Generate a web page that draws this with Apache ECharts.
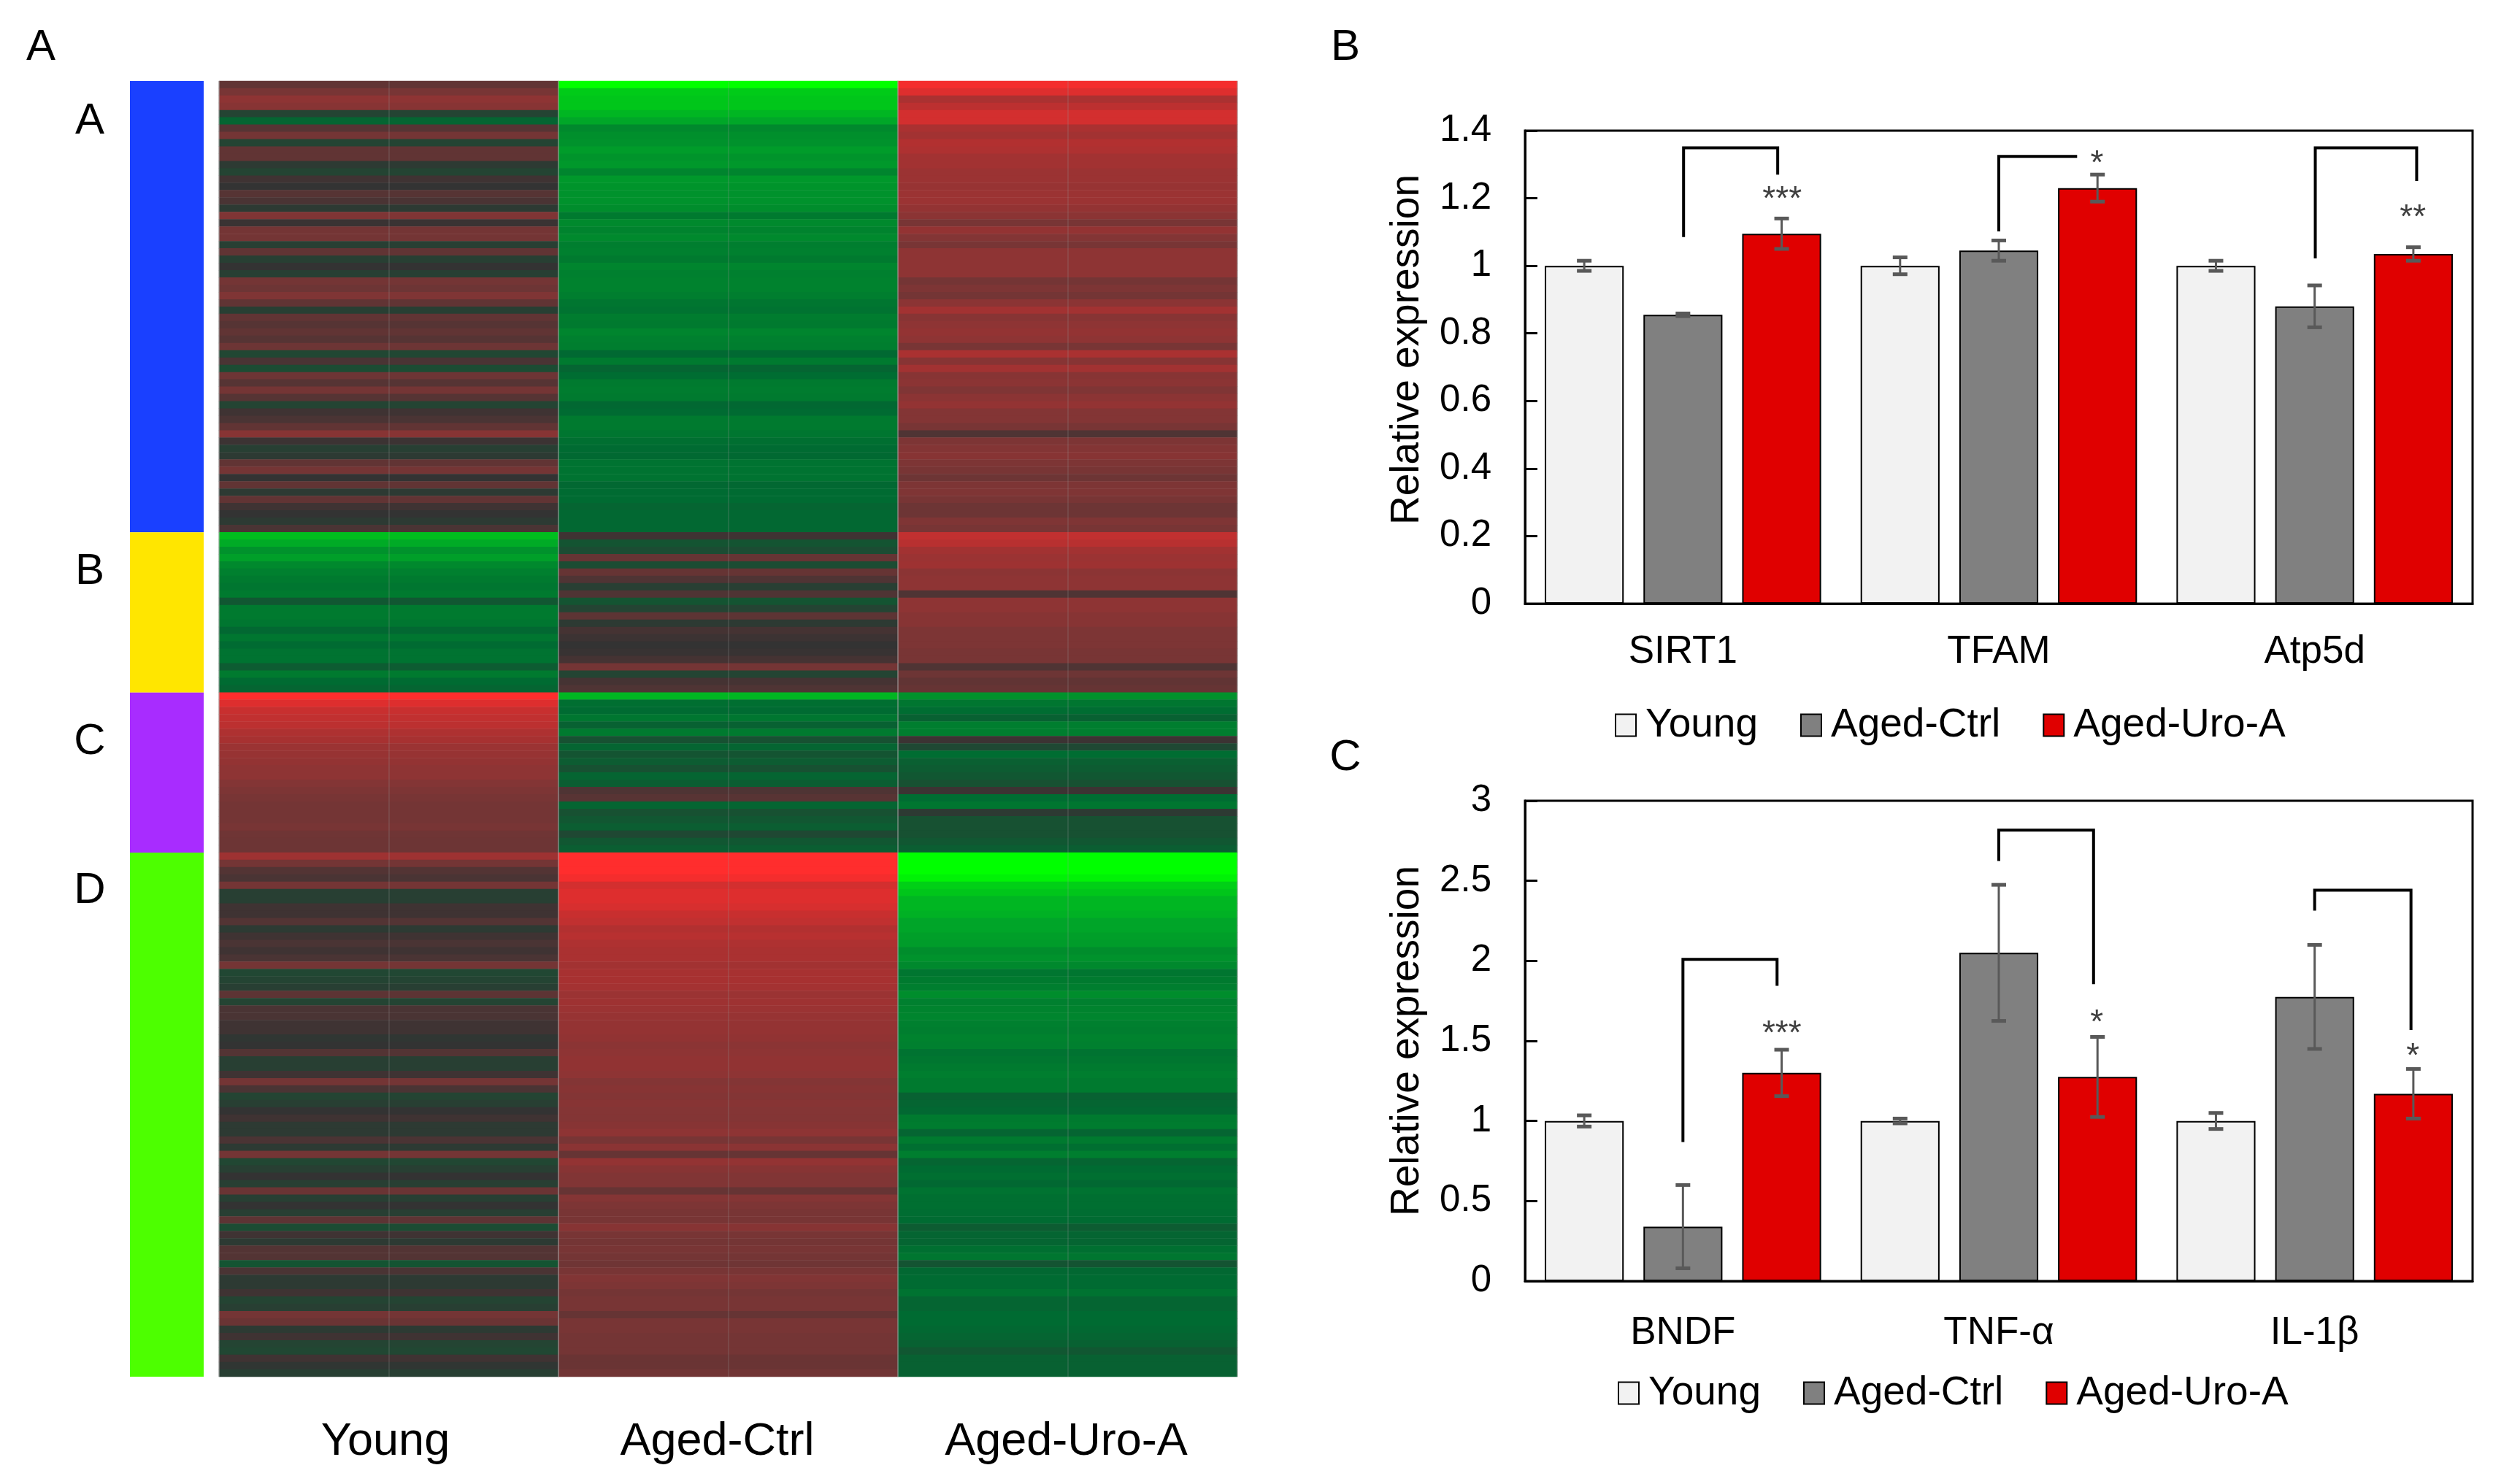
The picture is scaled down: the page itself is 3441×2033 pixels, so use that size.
<!DOCTYPE html>
<html>
<head>
<meta charset="utf-8">
<title>Uro-A expression</title>
<style>html,body{margin:0;padding:0;background:#fff}#main{width:3441px;height:2033px}</style>
<script src="https://cdn.jsdelivr.net/npm/echarts@6/dist/echarts.min.js"></script>
</head>
<body>
<div id="main"></div>
<script>
// === heatmap: one value per stripe (-1 green .. 0 dark .. +1 red) ===
const groups=['Young','Aged-Ctrl','Aged-Uro-A'];
const clusterColors=['#1a40ff','#ffe600','#a82cff','#4dff00'];
const youngA=[.2,.3,.42,.38,-.1,-.3,.15,.28,-.1,.2,.2,-.04,-.1,.05,0,.15,.1,-.04,.33,.03,.28,.28,-.07,.2,-.07,0,-.07,.28,.25,.33,.2,
  -.07,.2,.15,.2,.15,.25,-.12,.1,-.15,.25,.15,.28,.15,-.1,.05,.1,.2,.38,.04,-.07,-.04,.2,.28,0,.2,-.04,.2,.05,0,-.04,.1];
const ctrlA=[-1,-.8,-.78,-.78,-.72,-.66,-.5,-.53,-.55,-.6,-.56,-.58,-.48,-.58,-.56,-.55,-.55,-.52,-.42,-.5,-.47,-.5,-.44,-.45,-.42,-.48,-.45,-.46,-.46,-.44,-.4,
  -.38,-.43,-.42,-.48,-.45,-.44,-.33,-.42,-.3,-.35,-.42,-.43,-.42,-.32,-.34,-.42,-.42,-.4,-.36,-.34,-.33,-.38,-.38,-.38,-.32,-.34,-.34,-.3,-.32,-.32,-.32];
const uroA=[.95,.85,.6,.7,.8,.8,.6,.55,.65,.62,.55,.55,.5,.5,.48,.5,.5,.45,.4,.3,.45,.35,.3,.42,.42,.42,.42,.28,.32,.28,.4,
  .55,.38,.42,.45,.42,.3,.6,.38,.55,.38,.4,.33,.4,.45,.35,.35,.3,.12,.32,.35,.38,.32,.3,.25,.32,.33,.3,.25,.25,.33,.3];
const youngB=[-.75,-.68,-.55,-.62,-.5,-.45,-.42,-.4,-.42,-.22,-.42,-.42,-.4,-.32,-.4,-.34,-.38,-.38,-.25,-.42,-.34,-.3];
const ctrlB=[.05,-.2,-.15,.22,-.15,.22,.12,-.07,.12,-.2,-.1,.18,-.04,.08,.04,0,.02,.08,.28,-.1,.08,.12];
const uroB=[.72,.68,.55,.5,.52,.4,.42,.42,.12,.42,.42,.38,.38,.32,.32,.32,.3,.3,.12,.25,.2,.22];
const youngC=[1,.85,.75,.72,.7,.62,.58,.5,.48,.45,.42,.42,.35,.32,.3,.28,.28,.28,.3,.26,.25,.25];
const ctrlC=[-.72,-.36,-.34,-.4,-.28,-.42,-.18,-.3,-.2,-.25,-.18,-.3,-.26,.12,.16,-.3,-.18,-.22,-.26,-.13,-.22,-.26];
const uroC=[-.55,-.4,-.35,-.28,-.44,-.44,.04,-.13,-.35,-.27,-.25,-.22,-.18,.04,-.35,-.4,-.04,-.18,-.18,-.18,-.22,-.26];
const youngD=[.52,.28,.14,.1,.28,-.07,-.07,.05,.05,.14,-.04,.05,.1,.05,.1,.28,-.12,-.1,-.07,.18,-.1,.1,.1,.05,.05,-.02,0,.14,-.07,-.07,.05,.28,.1,-.1,-.07,0,
  .05,-.04,-.04,.1,-.04,.28,-.12,-.07,0,-.07,.24,-.07,0,-.07,.18,-.15,.05,-.04,.14,.14,-.2,.1,-.04,-.04,.05,-.1,-.07,.28,.24,-.04,.05,-.1,-.12,.05,-.02,-.07];
const ctrlD=[1,1,1,.95,.8,.85,.85,.82,.75,.72,.65,.68,.62,.6,.6,.55,.58,.58,.56,.5,.52,.5,.48,.46,.46,.44,.4,.42,.44,.44,.42,.35,.38,.35,.38,.36,
  .35,.38,.42,.3,.4,.22,.45,.38,.34,.34,.22,.36,.32,.3,.3,.38,.3,.28,.3,.28,.26,.3,.34,.32,.28,.3,.3,.22,.3,.3,.28,.28,.28,.24,.24,.27];
const uroD=[-1,-1,-1,-.95,-.82,-.78,-.72,-.72,-.7,-.65,-.65,-.62,-.6,-.52,-.55,-.5,-.4,-.42,-.44,-.52,-.45,-.47,-.48,-.45,-.44,-.46,-.45,-.38,-.4,-.42,-.44,-.42,-.42,-.28,-.3,-.32,
  -.42,-.43,-.3,-.42,-.36,-.44,-.3,-.34,-.36,-.32,-.38,-.36,-.36,-.35,-.34,-.25,-.3,-.3,-.36,-.4,-.2,-.32,-.34,-.34,-.38,-.3,-.3,-.34,-.34,-.32,-.3,-.28,-.22,-.28,-.28,-.28];

// === bar panels ===
const genesB=['SIRT1','TFAM','Atp5d'];
const youngValB=[1,1,1],ctrlValB=[.855,1.045,.88],uroValB=[1.095,1.23,1.035];
const youngErrB=[.015,.025,.015],ctrlErrB=[.004,.03,.062],uroErrB=[.045,.04,.02];
const genesC=['BNDF','TNF-α','IL-1β'];
const youngValC=[1,1,1],ctrlValC=[.34,2.05,1.775],uroValC=[1.3,1.275,1.17];
const youngErrC=[.035,.015,.05],ctrlErrC=[.26,.425,.325],uroErrC=[.145,.25,.155];
// bracket: x1,y1 up to top, across to x2,y2 (x in category widths from the left of the plot)
const bracketsB=[[.502,1.085,1.349,.80,1.27],[1.5,1.102,1.324,1.748,1.324],[2.502,1.022,1.349,2.823,1.251]];
const bracketsC=[[.5,.868,2.01,.798,1.844],[1.5,2.624,2.817,1.8,1.855],[2.5,2.314,2.441,2.805,1.568]];
const starsB=[[.814,1.195,'***'],[1.811,1.3,'*'],[2.811,1.14,'**']];
const starsC=[[.813,1.54,'***'],[1.81,1.61,'*'],[2.811,1.4,'*']];

const FONT='"Liberation Sans",Arial,sans-serif';
const BAR_COLORS=['#f2f2f2','#808080','#e00000'];

function heatData(){
  var cols=[youngA.concat(youngB,youngC,youngD),ctrlA.concat(ctrlB,ctrlC,ctrlD),uroA.concat(uroB,uroC,uroD)];
  var out=[];
  cols.forEach(function(col,x){col.forEach(function(v,y){out.push([x,y,v])})});
  return out;
}
const rowCount=youngA.length+youngB.length+youngC.length+youngD.length;
const rowLabels=[];
for(var r=0;r<rowCount;r++)rowLabels.push(String(r));

function renderBracket(params,api){
  var a=api.coord([api.value(0),api.value(1)]),
      b=api.coord([api.value(0),api.value(2)]),
      c=api.coord([api.value(3),api.value(2)]),
      d=api.coord([api.value(3),api.value(4)]);
  return {type:'polyline',shape:{points:[a,b,c,d]},style:{stroke:'#000',lineWidth:4,fill:null}};
}
function renderErr(params,api){
  var hi=api.coord([api.value(0),api.value(1)+api.value(2)]),
      lo=api.coord([api.value(0),api.value(1)-api.value(2)]),
      st={stroke:'#595959',lineWidth:3},cap={stroke:'#595959',lineWidth:5};
  return {type:'group',children:[
    {type:'line',shape:{x1:hi[0],y1:hi[1],x2:lo[0],y2:lo[1]},style:st},
    {type:'line',shape:{x1:hi[0]-10,y1:hi[1],x2:hi[0]+10,y2:hi[1]},style:cap},
    {type:'line',shape:{x1:lo[0]-10,y1:lo[1],x2:lo[0]+10,y2:lo[1]},style:cap}
  ]};
}
function renderStar(params,api){
  var p=api.coord([api.value(0),api.value(1)]);
  return {type:'text',style:{x:p[0],y:p[1],text:api.value(2),fill:'#404040',font:'46px '+FONT,textAlign:'center',textVerticalAlign:'middle'}};
}

// one bar panel = category axis + hidden 0-3 value axis for error bars and brackets
function addPanel(opt,gridCfg,cats,max,step,vals,errs,brackets,stars,labelMargin,titleShift){
  var g=opt.grid.length;
  opt.grid.push(Object.assign({show:true,borderColor:'#000',borderWidth:3,backgroundColor:'transparent'},gridCfg));
  var xCat=opt.xAxis.length,xVal=xCat+1,yI=opt.yAxis.length;
  opt.xAxis.push({type:'category',gridIndex:g,data:cats,axisTick:{show:false},axisLine:{lineStyle:{color:'#000',width:3}},
    axisLabel:{color:'#000',fontFamily:FONT,fontSize:53,margin:labelMargin}});
  opt.xAxis.push({type:'value',gridIndex:g,min:0,max:3,show:false});
  opt.yAxis.push({type:'value',gridIndex:g,min:0,max:max,interval:step,name:'Relative expression',nameLocation:'middle',nameGap:134,
    nameTextStyle:{color:'#000',fontFamily:FONT,fontSize:55,padding:[0,0,0,titleShift]},splitLine:{show:false},
    axisLine:{show:true,lineStyle:{color:'#000',width:3}},axisTick:{show:true,inside:true,length:17,lineStyle:{color:'#000',width:3}},
    axisLabel:{color:'#000',fontFamily:FONT,fontSize:51,margin:46}});
  groups.forEach(function(name,i){
    opt.series.push({name:name,type:'bar',xAxisIndex:xCat,yAxisIndex:yI,data:vals[i],barWidth:'25%',barGap:'25%',
      itemStyle:{color:BAR_COLORS[i],borderColor:'#000',borderWidth:2},animation:false});
    var pts=vals[i].map(function(v,k){return [k+.5+(i-1)*.3125,v,errs[i][k]]});
    opt.series.push({type:'custom',xAxisIndex:xVal,yAxisIndex:yI,data:pts,renderItem:renderErr,silent:true,z:5,animation:false,clip:false});
  });
  opt.series.push({type:'custom',xAxisIndex:xVal,yAxisIndex:yI,data:brackets,renderItem:renderBracket,silent:true,z:6,animation:false});
  opt.series.push({type:'custom',xAxisIndex:xVal,yAxisIndex:yI,data:stars,renderItem:renderStar,silent:true,z:6,animation:false,
    encode:{x:0,y:1},dimensions:['x','y',{name:'t',type:'ordinal'}]});
}
function legendCfg(left,top){
  return {left:left,top:top,data:groups,icon:'rect',itemWidth:28,itemHeight:30,itemGap:58,
    textStyle:{color:'#000',fontFamily:FONT,fontSize:55,padding:[0,0,0,8]}};
}
function txt(x,y,s,size){
  return {type:'text',x:x,y:y,style:{text:s,fill:'#000',font:size+'px '+FONT,textAlign:'center',textVerticalAlign:'middle'}};
}

const opt={
  animation:false,backgroundColor:'#fff',
  grid:[{left:300,top:111,width:1395,height:1775}],
  xAxis:[{type:'category',gridIndex:0,z:6,axisTick:{show:false},axisLine:{show:false},
    data:[{value:'Young',textStyle:{padding:[0,9,0,0]}},{value:'Aged-Ctrl',textStyle:{padding:[0,30,0,0]}},{value:'Aged-Uro-A',textStyle:{padding:[0,4,0,0]}}],
    splitLine:{show:true,lineStyle:{color:'rgba(170,170,170,.5)',width:2}},
    axisLabel:{color:'#000',fontFamily:FONT,fontSize:63,margin:58}}],
  yAxis:[{type:'category',gridIndex:0,inverse:true,data:rowLabels,show:false}],
  visualMap:[{show:false,seriesIndex:0,min:-1,max:1,inRange:{color:['#00ff00','#00a828','#006a32','#333333','#803535','#b53030','#ff2d2d']}}],
  series:[{type:'heatmap',data:heatData(),xAxisIndex:0,yAxisIndex:0,progressive:0,animation:false,itemStyle:{borderWidth:0},
    markLine:{silent:true,symbol:'none',label:{show:false},lineStyle:{color:'rgba(150,150,150,.2)',width:2,type:'solid'},
      data:groups.map(function(g){return {xAxis:g}})}}],
  legend:[legendCfg(2207,961),legendCfg(2211,1876)],
  graphic:[txt(56,65,'A',60),txt(1843,65,'B',60),txt(1843,1038,'C',60),
    txt(123,166,'A',60),txt(123,783,'B',60),txt(123,1016,'C',60),txt(123,1220,'D',60)]
};

// colour key strip beside the heatmap, drawn as one stacked column
(function(){
  opt.grid.push({left:178,top:111,width:101,height:1775});
  opt.xAxis.push({type:'category',gridIndex:1,data:['k'],show:false});
  opt.yAxis.push({type:'value',gridIndex:1,inverse:true,min:0,max:rowCount,show:false});
  [youngA,youngB,youngC,youngD].forEach(function(arr,i){
    opt.series.push({type:'bar',xAxisIndex:1,yAxisIndex:1,stack:'key',barWidth:'100%',data:[arr.length],
      itemStyle:{color:clusterColors[i]},silent:true,animation:false});
  });
})();

addPanel(opt,{left:2089,top:179,width:1298,height:648},genesB,1.4,.2,
  [youngValB,ctrlValB,uroValB],[youngErrB,ctrlErrB,uroErrB],bracketsB,starsB,40,48);
addPanel(opt,{left:2089,top:1097,width:1298,height:658},genesC,3,.5,
  [youngValC,ctrlValC,uroValC],[youngErrC,ctrlErrC,uroErrC],bracketsC,starsC,45,0);

const chart=echarts.init(document.getElementById('main'),null,{renderer:'canvas'});
chart.setOption(opt);
</script>
</body>
</html>
